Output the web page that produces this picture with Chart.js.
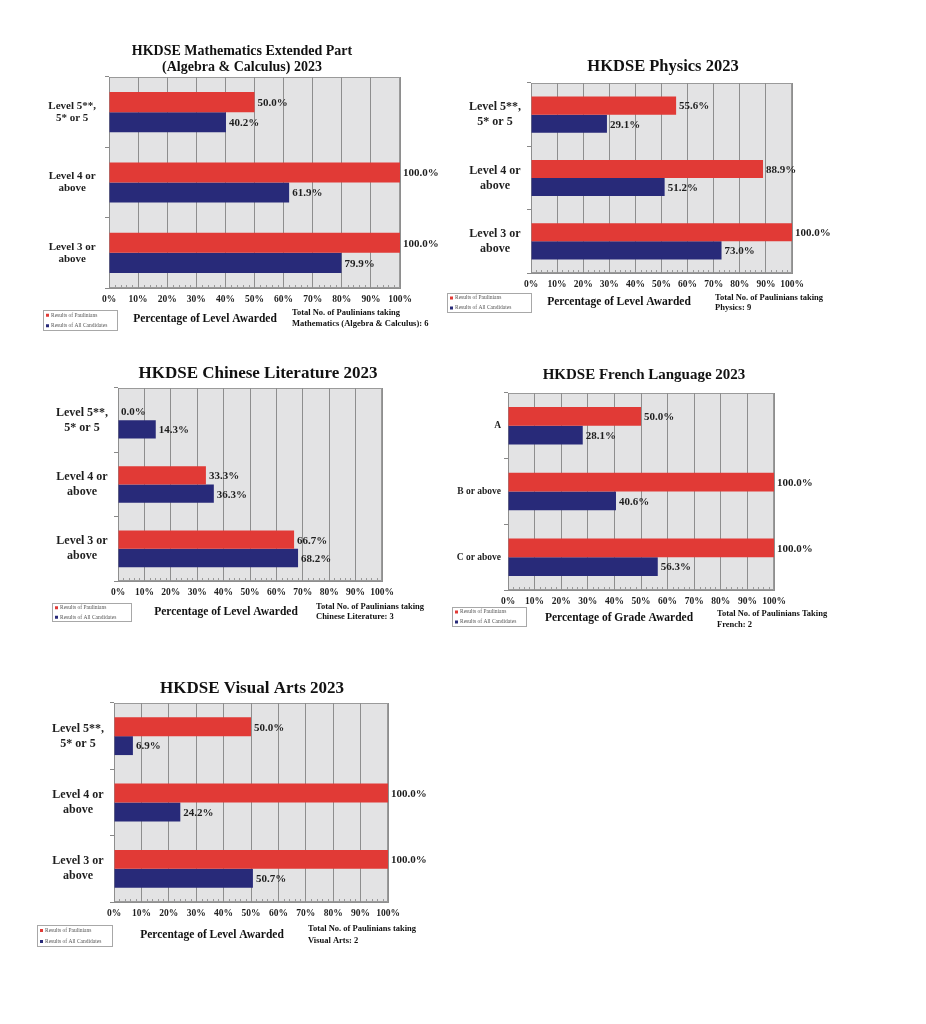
<!DOCTYPE html>
<html>
<head>
<meta charset="utf-8">
<script src="https://cdn.jsdelivr.net/npm/chart.js@4.4.0/dist/chart.umd.min.js"></script>
<style>
  html, body { margin: 0; padding: 0; background: #fff; }
  body { width: 926px; height: 1024px; position: relative; overflow: hidden; }
  canvas { position: absolute; }
</style>
</head>
<body>
<script>
// categories
const levelCategories = [["Level 5**,", "5* or 5"], ["Level 4 or", "above"], ["Level 3 or", "above"]];
const gradeCategories = ["A", "B or above", "C or above"];
const xTickValues = [0, 10, 20, 30, 40, 50, 60, 70, 80, 90, 100];
const seriesNames = ["Results of Paulinians", "Results of All Candidates"];

// values (%)
const mathPaulinians = [50.0, 100.0, 100.0];
const mathAllCandidates = [40.2, 61.9, 79.9];
const physicsPaulinians = [55.6, 88.9, 100.0];
const physicsAllCandidates = [29.1, 51.2, 73.0];
const chiLitPaulinians = [0.0, 33.3, 66.7];
const chiLitAllCandidates = [14.3, 36.3, 68.2];
const frenchPaulinians = [50.0, 100.0, 100.0];
const frenchAllCandidates = [28.1, 40.6, 56.3];
const visualArtsPaulinians = [50.0, 100.0, 100.0];
const visualArtsAllCandidates = [6.9, 24.2, 50.7];

const RED = "#e13a36";
const NAVY = "#282a79";
const SERIF = '"Liberation Serif", "Times New Roman", serif';

const panels = [
  {
    title: ["HKDSE Mathematics Extended Part", "(Algebra & Calculus) 2023"], titleSize: 14, titleX: 242, titleY: [51, 67],
    labels: levelCategories, pauls: mathPaulinians, all: mathAllCandidates,
    axisTitle: "Percentage of Level Awarded", axisX: 205, axisY: 319,
    note: ["Total No. of Paulinians taking", "Mathematics (Algebra & Calculus): 6"], noteX: 292, noteY: [313, 324],
    legend: [43, 310, 118, 331], plot: [109, 77, 400, 288], catFont: 11, catLine: 12, align: "center", catPad: 9
  },
  {
    title: ["HKDSE Physics 2023"], titleSize: 16.5, titleX: 663, titleY: [67],
    labels: levelCategories, pauls: physicsPaulinians, all: physicsAllCandidates,
    axisTitle: "Percentage of Level Awarded", axisX: 619, axisY: 302,
    note: ["Total No. of Paulinians taking", "Physics: 9"], noteX: 715, noteY: [298, 308],
    legend: [447, 293, 532, 313], plot: [531, 83, 792, 273], catFont: 12, catLine: 15, align: "center", catPad: 6
  },
  {
    title: ["HKDSE Chinese Literature 2023"], titleSize: 17, titleX: 258, titleY: [374],
    labels: levelCategories, pauls: chiLitPaulinians, all: chiLitAllCandidates,
    axisTitle: "Percentage of Level Awarded", axisX: 226, axisY: 612,
    note: ["Total No. of Paulinians taking", "Chinese Literature: 3"], noteX: 316, noteY: [607, 617],
    legend: [52, 603, 132, 622], plot: [118, 388, 382, 581], catFont: 12, catLine: 15, align: "center", catPad: 6
  },
  {
    title: ["HKDSE French Language 2023"], titleSize: 15, titleX: 644, titleY: [375],
    labels: gradeCategories, pauls: frenchPaulinians, all: frenchAllCandidates,
    axisTitle: "Percentage of Grade Awarded", axisX: 619, axisY: 618,
    note: ["Total No. of Paulinians Taking", "French: 2"], noteX: 717, noteY: [614, 625],
    legend: [452, 607, 527, 627], plot: [508, 393, 774, 590], catFont: 9.5, catLine: 11, align: "near", catPad: 3
  },
  {
    title: ["HKDSE Visual Arts 2023"], titleSize: 17, titleX: 252, titleY: [689],
    labels: levelCategories, pauls: visualArtsPaulinians, all: visualArtsAllCandidates,
    axisTitle: "Percentage of Level Awarded", axisX: 212, axisY: 935,
    note: ["Total No. of Paulinians taking", "Visual Arts: 2"], noteX: 308, noteY: [929, 941],
    legend: [37, 925, 113, 947], plot: [114, 703, 388, 902], catFont: 12, catLine: 15, align: "center", catPad: 6
  }
];

const Y_W = 85, X_H = 20, PAD_L = 90, PAD_T = 45, PAD_R = 75, PAD_B = 65;

// grey plot box, minor ticks
const plotBox = {
  id: "plotBox",
  beforeDraw(chart) {
    const { ctx, chartArea: a } = chart;
    ctx.save();
    ctx.fillStyle = "#e3e3e4";
    ctx.fillRect(a.left, a.top, a.right - a.left, a.bottom - a.top);
    ctx.strokeStyle = "#9a9a9a";
    ctx.lineWidth = 1;
    ctx.strokeRect(a.left + 0.5, a.top + 0.5, a.right - a.left - 1, a.bottom - a.top - 1);
    ctx.restore();
  },
  afterDraw(chart) {
    const { ctx, chartArea: a, scales } = chart;
    ctx.save();
    ctx.strokeStyle = "#9a9a9a";
    ctx.lineWidth = 1;
    for (let v = 2; v < 100; v += 2) {
      if (v % 10 === 0) continue;
      const x = Math.round(scales.x.getPixelForValue(v)) + 0.5;
      ctx.beginPath();
      ctx.moveTo(x, a.bottom);
      ctx.lineTo(x, a.bottom - 3);
      ctx.stroke();
    }
    ctx.restore();
  }
};

// value labels at bar ends
const barValues = {
  id: "barValues",
  afterDatasetsDraw(chart) {
    const { ctx } = chart;
    ctx.save();
    ctx.font = "bold 11px " + SERIF;
    ctx.fillStyle = "#1e1e1e";
    ctx.textBaseline = "middle";
    ctx.textAlign = "left";
    chart.data.datasets.forEach((ds, i) => {
      chart.getDatasetMeta(i).data.forEach((bar, j) => {
        ctx.fillText(ds.data[j].toFixed(1) + "%", bar.x + 3, bar.y + 1);
      });
    });
    ctx.restore();
  }
};

// title, axis title, note and legend box
const extras = {
  id: "extras",
  afterDraw(chart) {
    const p = chart.config.options.plugins.extras;
    const { ctx } = chart;
    const ox = p.ox, oy = p.oy;
    ctx.save();
    ctx.fillStyle = "#111";
    ctx.textBaseline = "middle";

    ctx.font = "bold " + p.titleSize + "px " + SERIF;
    ctx.textAlign = "center";
    p.title.forEach((t, i) => ctx.fillText(t, p.titleX - ox, p.titleY[i] - oy));

    ctx.font = "bold 11.5px " + SERIF;
    ctx.fillText(p.axisTitle, p.axisX - ox, p.axisY - oy);

    ctx.font = "bold 8.5px " + SERIF;
    ctx.textAlign = "left";
    p.note.forEach((t, i) => ctx.fillText(t, p.noteX - ox, p.noteY[i] - oy));

    const [l, t, r, b] = p.legend;
    ctx.fillStyle = "#fff";
    ctx.fillRect(l - ox, t - oy, r - l, b - t);
    ctx.strokeStyle = "#a8a8a8";
    ctx.lineWidth = 1;
    ctx.strokeRect(l - ox + 0.5, t - oy + 0.5, r - l - 1, b - t - 1);
    const rowH = (b - t) / 2;
    ctx.font = "5.5px " + SERIF;
    [RED, NAVY].forEach((c, i) => {
      const cy = t - oy + rowH * (i + 0.5);
      ctx.fillStyle = c;
      ctx.fillRect(l - ox + 3, cy - 1.5, 3, 3);
      ctx.fillStyle = "#555";
      ctx.fillText(seriesNames[i], l - ox + 8, cy);
    });
    ctx.restore();
  }
};

panels.forEach(p => {
  const [pl, pt, pr, pb] = p.plot;
  const left = pl - PAD_L, top = pt - PAD_T;
  const w = (pr + PAD_R) - left, h = (pb + PAD_B) - top;
  const cv = document.createElement("canvas");
  cv.width = w; cv.height = h;
  cv.style.left = left + "px"; cv.style.top = top + "px";
  cv.style.width = w + "px"; cv.style.height = h + "px";
  document.body.appendChild(cv);

  new Chart(cv.getContext("2d"), {
    type: "bar",
    data: {
      labels: p.labels,
      datasets: [
        { label: seriesNames[0], data: p.pauls, backgroundColor: RED },
        { label: seriesNames[1], data: p.all, backgroundColor: NAVY }
      ]
    },
    options: {
      indexAxis: "y",
      responsive: false,
      animation: false,
      devicePixelRatio: window.devicePixelRatio || 1,
      categoryPercentage: 0.57,
      barPercentage: 1.0,
      layout: { padding: { left: PAD_L - Y_W, top: PAD_T, right: PAD_R, bottom: PAD_B - X_H } },
      scales: {
        x: {
          min: 0, max: 100,
          afterBuildTicks: s => { s.ticks = xTickValues.map(v => ({ value: v })); },
          afterFit: s => { s.height = X_H; },
          grid: { color: "#8e8e8e", drawTicks: false },
          border: { display: true, color: "#8e8e8e" },
          ticks: {
            padding: 6, autoSkip: false, maxRotation: 0, color: "#1e1e1e",
            font: { family: SERIF, size: 9.5, weight: "bold" },
            callback: v => v + "%"
          }
        },
        y: {
          afterFit: s => { s.width = Y_W; },
          grid: { drawOnChartArea: false, drawTicks: true, tickLength: 4, color: "#888" },
          border: { display: true, color: "#8e8e8e" },
          ticks: {
            padding: p.catPad, crossAlign: p.align, color: "#1e1e1e",
            font: { family: SERIF, size: p.catFont, weight: "bold", lineHeight: p.catLine / p.catFont }
          }
        }
      },
      plugins: {
        legend: { display: false },
        title: { display: false },
        tooltip: { enabled: false },
        extras: {
          ox: left, oy: top, title: p.title, titleSize: p.titleSize, titleX: p.titleX, titleY: p.titleY,
          axisTitle: p.axisTitle, axisX: p.axisX, axisY: p.axisY,
          note: p.note, noteX: p.noteX, noteY: p.noteY, legend: p.legend
        }
      }
    },
    plugins: [plotBox, barValues, extras]
  });
});
</script>
</body>
</html>
